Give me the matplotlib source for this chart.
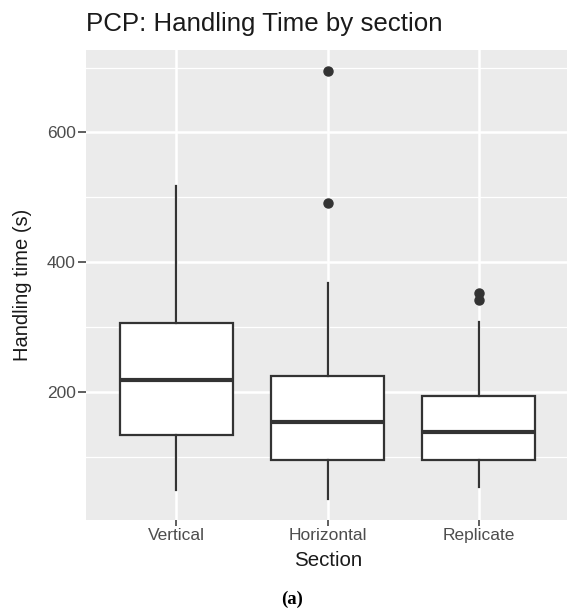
import matplotlib
matplotlib.use("Agg")
import matplotlib.pyplot as plt
from matplotlib.ticker import MultipleLocator

# Summary statistics for each section (seconds)
sections = ["Vertical", "Horizontal", "Replicate"]
whisker_low = [50.1, 36.2, 54.1]
q1 = [134.8, 96.3, 95.7]
median = [218.5, 154.9, 138.4]
q3 = [306.8, 225.1, 193.8]
whisker_high = [517.4, 367.5, 308.3]
outliers = [[], [694.1, 491.2], [352.1, 342.8]]

title = "PCP: Handling Time by section"
xlabel = "Section"
ylabel = "Handling time (s)"
caption = "(a)"

W, H = 567, 609
fig = plt.figure(figsize=(W / 100, H / 100), dpi=100)
fig.patch.set_facecolor("white")

left_px, right_px, top_px, bottom_px = 85.7, 567.0, 50.0, 520.0
ax = fig.add_axes([left_px / W, 1 - bottom_px / H,
                   (right_px - left_px) / W, (bottom_px - top_px) / H])
ax.set_facecolor("#EBEBEB")
for s in ax.spines.values():
    s.set_visible(False)

stats = []
for i, name in enumerate(sections):
    stats.append(dict(label=name, whislo=whisker_low[i], q1=q1[i], med=median[i],
                      q3=q3[i], whishi=whisker_high[i], fliers=outliers[i]))

line_col = "#333333"
ax.bxp(stats, positions=[1, 2, 3], widths=0.75, patch_artist=True,
       showcaps=False,
       boxprops=dict(facecolor="white", edgecolor=line_col, linewidth=1.6),
       medianprops=dict(color=line_col, linewidth=3.0, solid_capstyle="butt"),
       whiskerprops=dict(color=line_col, linewidth=1.6),
       flierprops=dict(marker="o", markerfacecolor=line_col, markeredgecolor=line_col,
                       markersize=6.5, linestyle="none"),
       zorder=3)

# data range with 5% padding
lo = min(whisker_low)
hi = max(max(o) for o in outliers if o)
pad = (hi - lo) * 0.05
ax.set_ylim(lo - pad, hi + pad)
ax.set_xlim(0.4, 3.584)

ax.yaxis.set_major_locator(MultipleLocator(200))
ax.yaxis.set_minor_locator(MultipleLocator(100))
ax.set_yticks([200, 400, 600])
ax.set_xticks([1, 2, 3])
ax.set_xticklabels(sections)
ax.grid(True, which="major", color="white", linewidth=1.8, zorder=0)
ax.grid(True, which="minor", axis="y", color="white", linewidth=0.9, zorder=0)
ax.set_axisbelow(True)

font = "Liberation Sans"
ax.tick_params(axis="y", which="major", length=5.5, width=1.1, color="#333333",
               labelsize=12.5, labelcolor="#4D4D4D", pad=1.8)
ax.tick_params(axis="x", which="major", length=4, width=1.1, color="#333333",
               labelsize=12.5, labelcolor="#4D4D4D", pad=2.0)
ax.tick_params(which="minor", length=0)
for lab in ax.get_xticklabels() + ax.get_yticklabels():
    lab.set_fontfamily(font)

fig.text(23 / W, 1 - 285 / H, ylabel, rotation=90, ha="center", va="center",
         fontsize=14.5, family=font, color="#1A1A1A")
fig.text(327.7 / W, 1 - 561 / H, xlabel, ha="center", va="center",
         fontsize=14.8, family=font, color="#1A1A1A")
fig.text(left_px / W, 1 - 31 / H, title, ha="left", va="baseline",
         fontsize=18.6, family=font, color="#1A1A1A")
fig.text(292 / W, 1 - 599 / H, caption, ha="center", va="center",
         fontsize=13.5, family="Liberation Serif", fontweight="bold", color="black")

fig.savefig("out.png", dpi=100)
